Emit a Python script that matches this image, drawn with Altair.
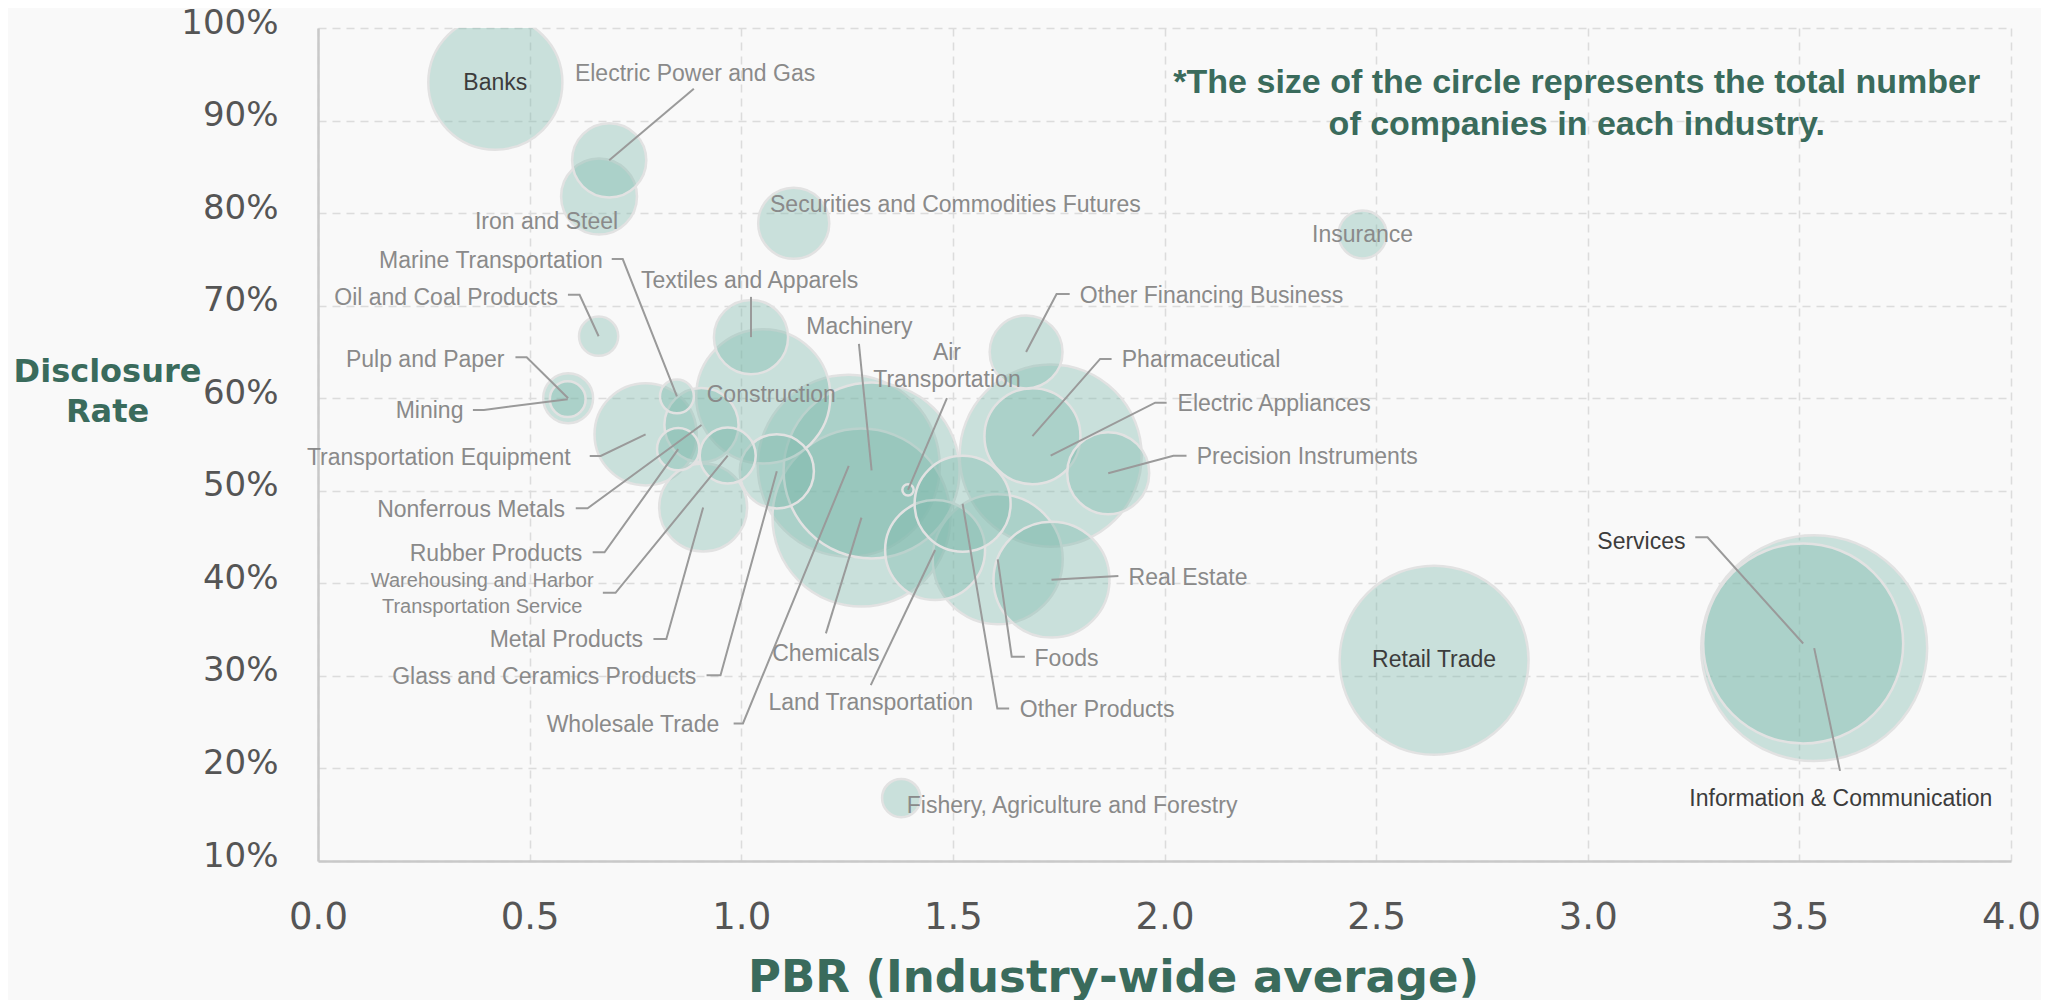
import altair as alt
import pandas as pd

# ---------------- data ----------------
industries = [
    "Fishery, Agriculture and Forestry", "Mining", "Construction", "Foods",
    "Textiles and Apparels", "Pulp and Paper", "Chemicals", "Pharmaceutical",
    "Oil and Coal Products", "Rubber Products", "Glass and Ceramics Products",
    "Iron and Steel", "Nonferrous Metals", "Metal Products", "Machinery",
    "Electric Appliances", "Transportation Equipment", "Precision Instruments",
    "Other Products", "Electric Power and Gas", "Land Transportation",
    "Marine Transportation", "Air Transportation",
    "Warehousing and Harbor Transportation Service",
    "Information & Communication", "Wholesale Trade", "Retail Trade", "Banks",
    "Securities and Commodities Futures", "Insurance",
    "Other Financing Business", "Real Estate", "Services",
]
pbr = [1.378, 0.590, 1.052, 1.606, 1.023, 0.591, 1.284, 1.688, 0.663, 0.851,
       1.084, 0.664, 0.906, 0.910, 1.308, 1.731, 0.774, 1.867, 1.523, 0.688,
       1.458, 0.848, 1.394, 0.968, 3.535, 1.254, 2.637, 0.419, 1.124, 2.468,
       1.673, 1.733, 3.509]
disclosure_rate = [16.8, 59.9, 60.2, 42.6, 66.6, 60.0, 47.1, 55.9, 66.7, 54.5,
                   52.1, 81.8, 57.1, 48.2, 52.2, 53.8, 56.1, 51.9, 48.6, 85.7,
                   43.6, 60.2, 50.1, 53.8, 33.0, 52.7, 31.7, 94.1, 78.9, 77.7,
                   65.0, 40.4, 33.5]
companies = [23, 20, 281, 264, 86, 39, 495, 144, 24, 28,
             86, 90, 86, 121, 484, 518, 163, 105, 144, 86,
             156, 18, 2, 49, 798, 518, 558, 281, 79, 36,
             83, 210, 625]

x_ticks = [0.0, 0.5, 1.0, 1.5, 2.0, 2.5, 3.0, 3.5, 4.0]
y_ticks = [10, 20, 30, 40, 50, 60, 70, 80, 90, 100]

# ---------------- label annotations (placement in data units) ----------------
label_industry = [
    "Banks", "Electric Power and Gas", "Iron and Steel",
    "Securities and Commodities Futures", "Insurance", "Marine Transportation",
    "Textiles and Apparels", "Oil and Coal Products", "Machinery",
    "Air Transportation", "Other Financing Business", "Pharmaceutical",
    "Electric Appliances", "Precision Instruments", "Real Estate", "Foods",
    "Other Products", "Retail Trade", "Services", "Information & Communication",
    "Fishery, Agriculture and Forestry", "Chemicals", "Land Transportation",
    "Wholesale Trade", "Glass and Ceramics Products", "Metal Products",
    "Warehousing and Harbor Transportation Service", "Rubber Products",
    "Nonferrous Metals", "Transportation Equipment", "Mining", "Pulp and Paper",
    "Construction",
]
label_text = [
    "Banks", "Electric Power and Gas", "Iron and Steel",
    "Securities and Commodities Futures", "Insurance", "Marine Transportation",
    "Textiles and Apparels", "Oil and Coal Products", "Machinery",
    "Air\nTransportation", "Other Financing Business", "Pharmaceutical",
    "Electric Appliances", "Precision Instruments", "Real Estate", "Foods",
    "Other Products", "Retail Trade", "Services", "Information & Communication",
    "Fishery, Agriculture and Forestry", "Chemicals", "Land Transportation",
    "Wholesale Trade", "Glass and Ceramics Products", "Metal Products",
    "Warehousing and Harbor\nTransportation Service", "Rubber Products",
    "Nonferrous Metals", "Transportation Equipment", "Mining", "Pulp and Paper",
    "Construction",
]
label_x = [0.419, 0.607, 0.540, 1.068, 2.468, 0.673, 0.763, 0.567, 1.279,
           1.486, 1.800, 1.899, 2.031, 2.076, 1.915, 1.693, 1.658, 2.637,
           3.231, 3.598, 1.391, 1.200, 1.306, 0.948, 0.894, 0.768, 0.388,
           0.6245, 0.5837, 0.597, 0.3436, 0.4407, 1.071]
label_y = [94.1, 95.0, 79.0, 80.9, 77.65, 74.8, 72.7, 70.85, 67.7,
           64.85, 71.05, 64.1, 59.35, 53.65, 40.6, 31.8, 26.35, 31.7,
           44.5, 16.7, 15.95, 32.4, 27.05, 24.65, 29.9, 33.85, 40.3,
           43.2, 47.95, 53.55, 58.6, 64.15, 60.4]
label_align = ["center", "left", "center", "left", "center", "right", "left",
               "right", "center", "center", "left", "left", "left", "left",
               "left", "left", "left", "center", "right", "center", "left",
               "center", "center", "right", "right", "right", "small",
               "right", "right", "right", "right", "right", "center"]
dark_labels = ["Banks", "Retail Trade", "Services", "Information & Communication"]

# leader lines: label end -> elbow -> bubble centre
leader_industry = [
    "Electric Power and Gas", "Marine Transportation", "Textiles and Apparels",
    "Oil and Coal Products", "Machinery", "Air Transportation",
    "Other Financing Business", "Pharmaceutical", "Electric Appliances",
    "Precision Instruments", "Real Estate", "Foods", "Other Products",
    "Services", "Information & Communication", "Chemicals",
    "Land Transportation", "Wholesale Trade", "Glass and Ceramics Products",
    "Metal Products", "Warehousing and Harbor Transportation Service",
    "Rubber Products", "Nonferrous Metals", "Transportation Equipment",
    "Mining", "Pulp and Paper",
]
leader_start_x = [0.888, 0.694, 1.023, 0.5905, 1.278, 1.486, 1.776, 1.875,
                  2.005, 2.052, 1.891, 1.670, 1.633, 3.254, 3.596, 1.200,
                  1.306, 0.982, 0.918, 0.7925, 0.673, 0.649, 0.609, 0.642,
                  0.366, 0.4665]
leader_start_y = [93.43, 75.03, 70.95, 71.17, 65.87, 60.0, 71.27, 64.25,
                  59.52, 53.79, 40.79, 32.07, 26.49, 44.97, 19.74, 34.59,
                  29.0, 24.86, 30.08, 33.98, 38.98, 43.35, 48.11, 53.76,
                  58.74, 64.43]
leader_elbow_x = [0.888, 0.720, 1.023, 0.618, 1.278, 1.486, 1.745, 1.848,
                  1.978, 2.021, 1.891, 1.639, 1.605, 3.283, 3.596, 1.200,
                  1.306, 1.004, 0.951, 0.823, 0.703, 0.677, 0.637, 0.668,
                  0.392, 0.4930]
leader_elbow_y = leader_start_y

note_text = "*The size of the circle represents the total number\nof companies in each industry."
note_x = [2.974]
note_y = [94.05]

# ---------------- tables ----------------
GREEN = "#3a6b5c"
bub = pd.DataFrame({"name": industries, "x": pbr, "y": disclosure_rate,
                    "companies": companies})
bub = bub.sort_values("companies", ascending=False).reset_index(drop=True)

lab = pd.DataFrame({"name": label_industry, "text": label_text, "x": label_x,
                    "y": label_y, "align": label_align})
lab["tone"] = ["dark" if n in dark_labels else "gray" for n in lab["name"]]

centre = dict(zip(industries, zip(pbr, disclosure_rate)))
rows = []
for i, n in enumerate(leader_industry):
    rows.append({"name": n, "seq": 0, "x": leader_start_x[i], "y": leader_start_y[i]})
    rows.append({"name": n, "seq": 1, "x": leader_elbow_x[i], "y": leader_elbow_y[i]})
    rows.append({"name": n, "seq": 2, "x": centre[n][0], "y": centre[n][1]})
lead = pd.DataFrame(rows)

note = pd.DataFrame({"x": note_x, "y": note_y, "text": [note_text]})

# ---------------- scales & axes ----------------
xscale = alt.Scale(domain=[0, 4], nice=False, zero=False)
yscale = alt.Scale(domain=[10, 100], nice=False, zero=False)
xaxis = alt.Axis(
    values=x_ticks, format=".1f", title="PBR (Industry-wide average)",
    labelFont="DejaVu Sans", labelFontSize=37, labelColor="#555555",
    labelBaseline="middle", labelPadding=56, labelFlush=False,
    labelOverlap=False, ticks=False, tickSize=0,
    domainColor="#c9c9c9", domainWidth=2.5,
    grid=True, gridColor="#dcdcdc", gridDash=[8, 6], gridWidth=1.5,
    titleFont="DejaVu Sans", titleFontSize=45, titleFontWeight="bold",
    titleColor=GREEN, titleAnchor="start", titleAlign="center",
    titleBaseline="alphabetic", titleX=795, titleY=130,
)
yaxis = alt.Axis(
    values=y_ticks, labelExpr="datum.value + '%'", title=["Disclosure", "Rate"],
    labelFont="DejaVu Sans", labelFontSize=34, labelColor="#555555",
    labelBaseline="middle", labelOffset=-5, labelPadding=40,
    labelFlush=False, labelOverlap=False,
    ticks=False, tickSize=0, domainColor="#c9c9c9", domainWidth=2.5,
    grid=True, gridColor="#dcdcdc", gridDash=[8, 6], gridWidth=1.5,
    titleFont="DejaVu Sans", titleFontSize=32, titleFontWeight="bold",
    titleColor=GREEN, titleAngle=0, titleAlign="center",
    titleBaseline="alphabetic", titleX=-211, titleY=353, titleLineHeight=40,
)


def X():
    return alt.X("x:Q", scale=xscale, axis=xaxis)


def Y():
    return alt.Y("y:Q", scale=yscale, axis=yaxis)


bubbles = alt.Chart(bub).mark_circle(
    clip=True, color="#7cb9aa", opacity=1, fillOpacity=0.38,
    stroke="#e2e2e2", strokeWidth=2.5, strokeOpacity=1,
).encode(
    x=X(), y=Y(),
    size=alt.Size("companies:Q", legend=None,
                  scale=alt.Scale(type="linear", zero=True, domain=[0, 800],
                                  range=[0, 51200])),
    order=alt.Order("companies:Q", sort="descending"),
)

leaders = alt.Chart(lead).mark_line(color="#9a9a9a", strokeWidth=2).encode(
    x=X(), y=Y(), detail="name:N", order="seq:Q",
)

tone = alt.Color("tone:N", legend=None,
                 scale=alt.Scale(domain=["dark", "gray"],
                                 range=["#3c3c3c", "#8a8a8a"]))


def text_layer(align, flt, size=23, lh=27):
    return alt.Chart(lab).transform_filter(flt).mark_text(
        align=align, baseline="middle", font="Liberation Sans",
        fontSize=size, lineBreak="\n", lineHeight=lh,
    ).encode(x=X(), y=Y(), text="text:N", color=tone)


t_left = text_layer("left", "datum.align == 'left'")
t_right = text_layer("right", "datum.align == 'right'")
t_center = text_layer("center", "datum.align == 'center'")
t_small = text_layer("center", "datum.align == 'small'", size=20, lh=26)

note_layer = alt.Chart(note).mark_text(
    align="center", baseline="middle", font="Liberation Sans", fontSize=34,
    fontWeight="bold", color=GREEN, lineBreak="\n", lineHeight=42,
).encode(x=X(), y=Y(), text="text:N")

chart = alt.layer(
    bubbles, leaders, t_left, t_right, t_center, t_small, note_layer
).properties(
    width=1693, height=833,
    autosize=alt.AutoSizeParams(type="none"),
    padding={"left": 310, "top": 20, "right": 30, "bottom": 139},
    background="#f9f9f9",
).configure_view(stroke=None)

chart.save("out.html", embed_options={"renderer": "svg", "actions": False})
